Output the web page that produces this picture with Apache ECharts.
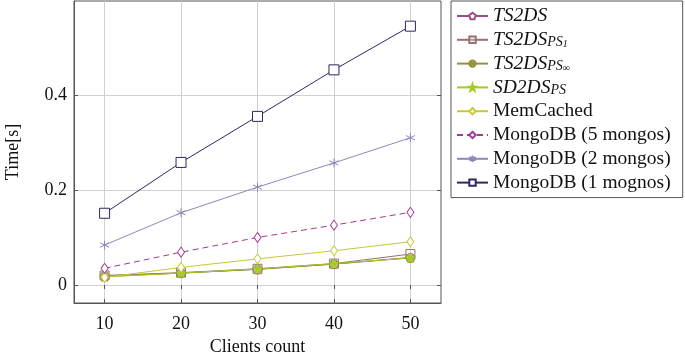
<!DOCTYPE html>
<html>
<head>
<meta charset="utf-8">
<script src="https://cdn.jsdelivr.net/npm/echarts@6/dist/echarts.min.js"></script>
<style>
  html, body { margin: 0; padding: 0; background: #fff; }
  #chart { width: 685px; height: 352px; }
</style>
</head>
<body>
<div id="chart"></div>
<script>
const clients = [10, 20, 30, 40, 50]
const yTicks = [0, 0.2, 0.4]

const ts2ds = [0.018, 0.025, 0.033, 0.044, 0.058]
const ts2dsPs1 = [0.02, 0.026, 0.034, 0.045, 0.065]
const ts2dsPsInf = [0.019, 0.025, 0.033, 0.044, 0.057]
const sd2dsPs = [0.017, 0.025, 0.034, 0.045, 0.057]
const memCached = [0.016, 0.037, 0.055, 0.072, 0.091]
const mongo5 = [0.035, 0.069, 0.1, 0.126, 0.153]
const mongo2 = [0.084, 0.152, 0.206, 0.257, 0.31]
const mongo1 = [0.151, 0.258, 0.355, 0.453, 0.545]

const FONT = 'Liberation Serif'

const pentagon = 'path://M0,-1L0.951,-0.309L0.588,0.809L-0.588,0.809L-0.951,-0.309Z'
const otimes = 'path://M1,0A1,1 0 1,1 -1,0A1,1 0 1,1 1,0ZM0.707,0.707L-0.707,-0.707M-0.707,0.707L0.707,-0.707'
const star = 'path://M0,-1L0.225,-0.309L0.951,-0.309L0.363,0.118L0.588,0.809L0,0.382L-0.588,0.809L-0.363,0.118L-0.951,-0.309L-0.225,-0.309Z'
const asterisk = 'path://M0,-1L0,1M-0.866,-0.5L0.866,0.5M-0.866,0.5L0.866,-0.5'

function pairs(vals) {
  return clients.map((c, i) => [c, vals[i]])
}

function line(name, vals, color, symbol, opts = {}) {
  return {
    name,
    type: 'line',
    data: pairs(vals),
    symbol,
    symbolSize: opts.size || 9,
    showSymbol: true,
    animation: false,
    lineStyle: { color, width: 1, type: opts.dash ? [6, 4] : 'solid' },
    itemStyle: {
      color: opts.fill || '#fff',
      borderColor: color,
      borderWidth: 1,
    },
    emphasis: { disabled: true },
    z: opts.z || 2,
  }
}

const legendNames = {
  TS2DS: '{i|TS2DS}',
  TS2DS_PS1: '{i|TS2DS}{s|PS}{ss|1}',
  TS2DS_PSinf: '{i|TS2DS}{s|PS}{ss|∞}',
  SD2DS_PS: '{i|SD2DS}{s|PS}',
  MemCached: 'MemCached',
  'MongoDB (5 mongos)': 'MongoDB (5 mongos)',
  'MongoDB (2 mongos)': 'MongoDB (2 mongos)',
  'MongoDB (1 mognos)': 'MongoDB (1 mognos)',
}

const chart = echarts.init(document.getElementById('chart'))

chart.setOption({
  backgroundColor: '#fff',
  textStyle: { fontFamily: FONT },
  grid: {
    left: 74,
    right: 244,
    top: 1,
    bottom: 49,
    outerBoundsMode: 'none',
    show: true,
    borderColor: '#555',
    borderWidth: 1,
  },
  legend: {
    orient: 'vertical',
    left: 451,
    top: 1,
    width: 232,
    padding: [5, 12, 5, 5],
    itemGap: 3.8,
    itemWidth: 31,
    itemHeight: 8,
    borderColor: '#555',
    borderWidth: 1,
    backgroundColor: '#fff',
    formatter: (name) => legendNames[name],
    textStyle: {
      fontFamily: FONT,
      fontSize: 19.5,
      color: '#111',
      lineHeight: 19,
      rich: {
        i: { fontFamily: FONT, fontSize: 19.5, fontStyle: 'italic', color: '#111', lineHeight: 19 },
        s: { fontFamily: FONT, fontSize: 14, fontStyle: 'italic', color: '#111', verticalAlign: 'bottom', padding: [7, 0, 0, 0] },
        ss: { fontFamily: FONT, fontSize: 10, fontStyle: 'italic', color: '#111', verticalAlign: 'bottom', padding: [10, 0, 0, 0] },
      },
    },
  },
  xAxis: [
    {
      type: 'value',
      min: 6,
      max: 54,
      name: 'Clients count',
      nameLocation: 'middle',
      nameGap: 34,
      nameTextStyle: { fontFamily: FONT, fontSize: 18, color: '#111' },
      axisLine: { show: true, onZero: false, lineStyle: { color: '#555' } },
      axisTick: { show: true, inside: true, length: 4, lineStyle: { color: '#555' }, customValues: clients },
      axisLabel: { fontFamily: FONT, fontSize: 18, color: '#111', margin: 12, customValues: clients },
      splitLine: { show: true, lineStyle: { color: '#d0d0d0' } },
    },
    {
      type: 'value',
      position: 'top',
      min: 6,
      max: 54,
      axisLine: { show: false },
      axisTick: { show: true, inside: true, length: 4, lineStyle: { color: '#555' }, customValues: clients },
      axisLabel: { show: false, customValues: clients },
      splitLine: { show: false },
    },
  ],
  yAxis: [
    {
      type: 'value',
      min: -0.038,
      max: 0.598,
      name: 'Time[s]',
      nameLocation: 'middle',
      nameGap: 52,
      nameTextStyle: { fontFamily: FONT, fontSize: 18, color: '#111' },
      axisLine: { show: true, onZero: false, lineStyle: { color: '#555' } },
      axisTick: { show: true, inside: true, length: 4, lineStyle: { color: '#555' }, customValues: yTicks },
      axisLabel: { fontFamily: FONT, fontSize: 18, color: '#111', margin: 7, customValues: yTicks, formatter: (v) => String(v) },
      splitLine: { show: true, lineStyle: { color: '#d0d0d0' } },
    },
    {
      type: 'value',
      position: 'right',
      min: -0.038,
      max: 0.598,
      axisLine: { show: false },
      axisTick: { show: true, inside: true, length: 4, lineStyle: { color: '#555' }, customValues: yTicks },
      axisLabel: { show: false, customValues: yTicks },
      splitLine: { show: false },
    },
  ],
  series: [
    line('TS2DS', ts2ds, '#9c4f86', pentagon, { size: 9 }),
    line('TS2DS_PS1', ts2dsPs1, '#9a6f6f', 'rect', { fill: 'rgba(255,255,255,0.3)' }),
    line('TS2DS_PSinf', ts2dsPsInf, '#929240', otimes, { fill: 'rgba(180,180,110,0.6)' }),
    line('SD2DS_PS', sd2dsPs, '#a4cc1e', star, { fill: '#a4cc1e' }),
    line('MemCached', memCached, '#c8c83a', 'diamond', { size: [7, 10] }),
    line('MongoDB (5 mongos)', mongo5, '#a23a94', 'diamond', { size: [7, 10], dash: true }),
    line('MongoDB (2 mongos)', mongo2, '#9088b8', asterisk, { size: 9, fill: '#9088b8' }),
    line('MongoDB (1 mognos)', mongo1, '#2a2a60', 'rect', { size: 10 }),
  ],
})
</script>
</body>
</html>
